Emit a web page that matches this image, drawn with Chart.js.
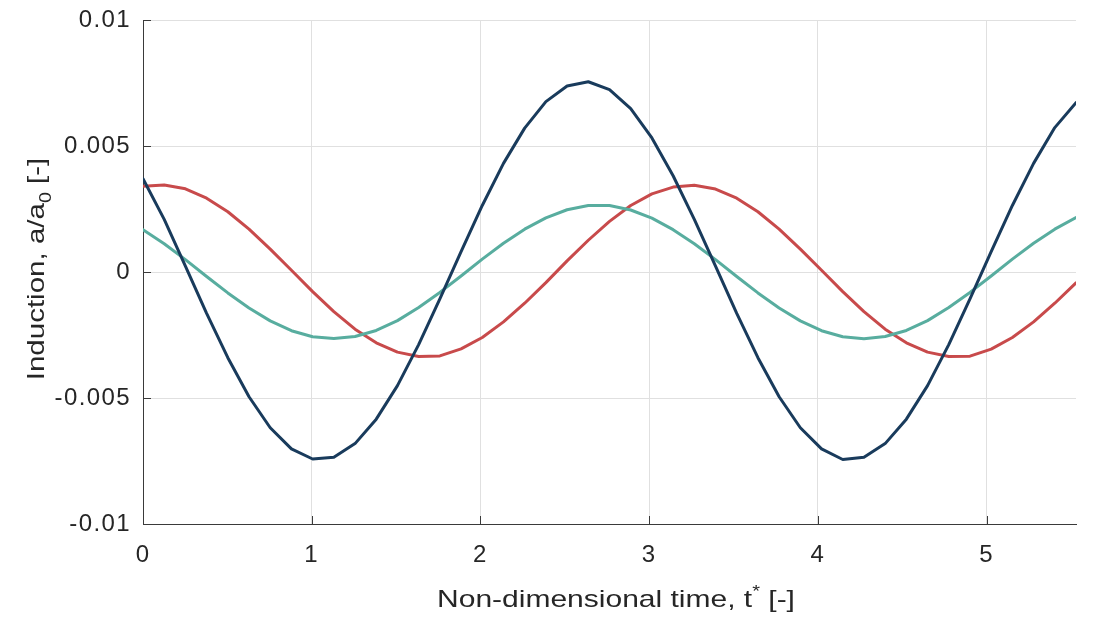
<!DOCTYPE html>
<html>
<head>
<meta charset="utf-8">
<script src="https://cdn.jsdelivr.net/npm/chart.js@4/dist/chart.umd.min.js"></script>
<style>
  html, body { margin: 0; padding: 0; background: #ffffff; }
  #wrap { width: 1097px; height: 623px; }
</style>
</head>
<body>
<div id="wrap"><canvas id="c" width="1097" height="623"></canvas></div>
<script>
// ---- Data ----
const timeValues = [0, 0.1257, 0.2513, 0.3770, 0.5027, 0.6283, 0.7540, 0.8796, 1.0053, 1.1310,
  1.2566, 1.3823, 1.5080, 1.6336, 1.7593, 1.8850, 2.0106, 2.1363, 2.2619, 2.3876,
  2.5133, 2.6389, 2.7646, 2.8903, 3.0159, 3.1416, 3.2673, 3.3929, 3.5186, 3.6442,
  3.7699, 3.8956, 4.0212, 4.1469, 4.2726, 4.3982, 4.5239, 4.6496, 4.7752, 4.9009,
  5.0265, 5.1522, 5.2779, 5.4035, 5.5292];

const navySeries = [0.0037, 0.00209, 0.00023, -0.00164, -0.00340, -0.00495, -0.00618, -0.00702, -0.00742, -0.00735,
  -0.00681, -0.00584, -0.00451, -0.00288, -0.00107, 0.00081, 0.00264, 0.00431, 0.00571, 0.00676,
  0.00738, 0.00755, 0.00724, 0.00648, 0.00532, 0.00382, 0.00209, 0.00023, -0.00164, -0.00340,
  -0.00495, -0.00618, -0.00702, -0.00744, -0.00735, -0.00681, -0.00584, -0.00451, -0.00288, -0.00107,
  0.00081, 0.00264, 0.00431, 0.00573, 0.00672];

const tealSeries = [0.00168, 0.00112, 0.00049, -0.00018, -0.00083, -0.00143, -0.00194, -0.00233, -0.00257, -0.00264,
  -0.00256, -0.00232, -0.00193, -0.00141, -0.00081, -0.00016, 0.00051, 0.00114, 0.00170, 0.00215,
  0.00247, 0.00264, 0.00264, 0.00246, 0.00214, 0.00168, 0.00112, 0.00049, -0.00018, -0.00083,
  -0.00143, -0.00194, -0.00233, -0.00257, -0.00265, -0.00256, -0.00232, -0.00193, -0.00141, -0.00081,
  -0.00016, 0.00051, 0.00114, 0.00170, 0.00216];

const redSeries = [0.00340, 0.00345, 0.00330, 0.00293, 0.00239, 0.00170, 0.00091, 0.00007, -0.00078, -0.00157,
  -0.00227, -0.00281, -0.00318, -0.00335, -0.00333, -0.00305, -0.00260, -0.00198, -0.00124, -0.00042,
  0.00044, 0.00126, 0.00201, 0.00264, 0.00310, 0.00337, 0.00344, 0.00329, 0.00293, 0.00239,
  0.00170, 0.00091, 0.00007, -0.00078, -0.00157, -0.00227, -0.00281, -0.00318, -0.00335, -0.00334,
  -0.00306, -0.00260, -0.00198, -0.00124, -0.00043];

const xTickValues = [0, 1, 2, 3, 4, 5];
const xTickLabels = ['0', '1', '2', '3', '4', '5'];
const yTickValues = [-0.01, -0.005, 0, 0.005, 0.01];
const yTickLabels = ['-0.01', '-0.005', '0', '0.005', '0.01'];

const xTitleParts = [
  { text: 'Non-dimensional time, t', kind: 'normal' },
  { text: '*', kind: 'sup' },
  { text: ' [-]', kind: 'normal' }
];
const yTitleParts = [
  { text: 'Induction, a/a', kind: 'normal' },
  { text: '0', kind: 'sub' },
  { text: ' [-]', kind: 'normal' }
];

// ---- Styling ----
const FONT = '"Liberation Sans", Arial, Helvetica, sans-serif';
const TEXT_COLOR = '#262626';
const AXIS_COLOR = '#3a3a3a';
const GRID_COLOR = '#e0e0e0';
const TICK_SPACING = '1.4px';

function toPoints(ys) { return ys.map((y, i) => ({ x: timeValues[i], y: y })); }

function drawParts(ctx, parts, size) {
  let total = 0;
  const widths = parts.map(p => {
    const s = p.kind === 'normal' ? size : Math.round(size * 0.68);
    ctx.font = s + 'px ' + FONT;
    const w = ctx.measureText(p.text).width;
    total += w;
    return w;
  });
  let x = -total / 2;
  parts.forEach((p, i) => {
    const s = p.kind === 'normal' ? size : Math.round(size * 0.68);
    ctx.font = s + 'px ' + FONT;
    let dy = 0;
    if (p.kind === 'sup') dy = -size * 0.42;
    if (p.kind === 'sub') dy = size * 0.28;
    ctx.fillText(p.text, x, dy);
    x += widths[i];
  });
}

const spacingPlugin = {
  id: 'spacing',
  beforeLayout(chart) { chart.ctx.letterSpacing = TICK_SPACING; },
  beforeDraw(chart) { chart.ctx.letterSpacing = TICK_SPACING; }
};

const extrasPlugin = {
  id: 'extras',
  afterDraw(chart) {
    const ctx = chart.ctx;
    const xs = chart.scales.x, ys = chart.scales.y;
    const area = chart.chartArea;
    ctx.save();
    ctx.letterSpacing = '0px';
    // inward tick marks
    ctx.strokeStyle = AXIS_COLOR;
    ctx.lineWidth = 1;
    ctx.beginPath();
    xTickValues.forEach(v => {
      const px = Math.round(xs.getPixelForValue(v)) + 0.5;
      ctx.moveTo(px, area.bottom);
      ctx.lineTo(px, area.bottom - 8);
    });
    yTickValues.forEach(v => {
      const py = Math.round(ys.getPixelForValue(v)) + 0.5;
      ctx.moveTo(area.left, py);
      ctx.lineTo(area.left + 8, py);
    });
    ctx.stroke();

    // axis titles with super/subscripts
    ctx.fillStyle = TEXT_COLOR;
    ctx.textBaseline = 'alphabetic';
    ctx.textAlign = 'left';
    ctx.save();
    ctx.translate(616, 607);
    ctx.scale(1.25, 1);
    drawParts(ctx, xTitleParts, 24);
    ctx.restore();

    ctx.save();
    ctx.translate(44, 269);
    ctx.rotate(-Math.PI / 2);
    ctx.scale(1.23, 1);
    drawParts(ctx, yTitleParts, 24);
    ctx.restore();
    ctx.restore();
  }
};

new Chart(document.getElementById('c'), {
  type: 'line',
  data: {
    datasets: [
      { label: 'navy', data: toPoints(navySeries), borderColor: '#193b5c', borderWidth: 3 },
      { label: 'teal', data: toPoints(tealSeries), borderColor: '#58ad9f', borderWidth: 3 },
      { label: 'red', data: toPoints(redSeries), borderColor: '#c84a4b', borderWidth: 3 }
    ]
  },
  options: {
    responsive: false,
    animation: false,
    events: [],
    elements: {
      point: { radius: 0 },
      line: { tension: 0, fill: false, borderJoinStyle: 'round', borderCapStyle: 'round' }
    },
    layout: { padding: { left: 0, right: 21, top: 20, bottom: 0 } },
    plugins: { legend: { display: false }, tooltip: { enabled: false }, title: { display: false } },
    scales: {
      x: {
        type: 'linear',
        min: 0,
        max: timeValues[timeValues.length - 1],
        afterBuildTicks: s => { s.ticks = xTickValues.map(v => ({ value: v })); },
        afterFit: s => { s.height = 99; s.paddingLeft = 0; s.paddingRight = 0; },
        grid: { color: GRID_COLOR, lineWidth: 1, drawTicks: false },
        border: { display: true, color: AXIS_COLOR, width: 1 },
        ticks: {
          autoSkip: false, maxRotation: 0, padding: 17,
          color: TEXT_COLOR, font: { family: FONT, size: 24 },
          callback: v => { const i = xTickValues.indexOf(v); return i >= 0 ? xTickLabels[i] : ''; }
        }
      },
      y: {
        type: 'linear',
        min: -0.01,
        max: 0.01,
        afterBuildTicks: s => { s.ticks = yTickValues.map(v => ({ value: v })); },
        afterFit: s => { s.width = 143; s.paddingTop = 0; s.paddingBottom = 0; },
        grid: { color: GRID_COLOR, lineWidth: 1, drawTicks: false },
        border: { display: true, color: AXIS_COLOR, width: 1 },
        ticks: {
          autoSkip: false, padding: 12,
          color: TEXT_COLOR, font: { family: FONT, size: 24 },
          callback: v => {
            const i = yTickValues.findIndex(t => Math.abs(t - v) < 1e-9);
            return i >= 0 ? yTickLabels[i] : '';
          }
        }
      }
    }
  },
  plugins: [spacingPlugin, extrasPlugin]
});
</script>
</body>
</html>
